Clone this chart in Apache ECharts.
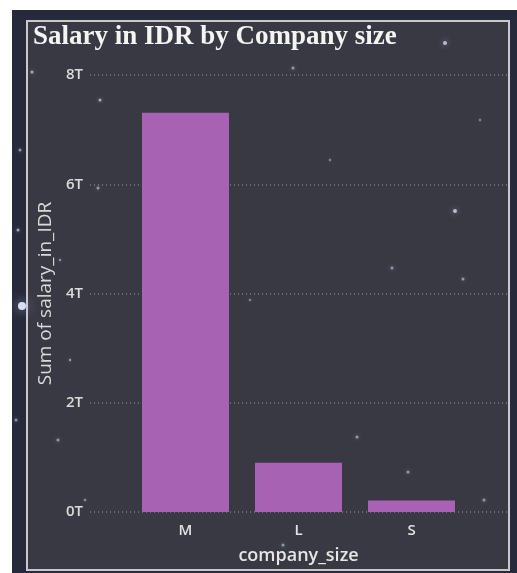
<!DOCTYPE html>
<html>
<head>
<meta charset="utf-8">
<title>Salary in IDR by Company size</title>
<script src="https://cdn.jsdelivr.net/npm/echarts@6/dist/echarts.min.js"></script>
<style>
  html, body { margin: 0; padding: 0; background: #ffffff; }
  #chart { width: 517px; height: 573px; }
</style>
</head>
<body>
<div id="chart"></div>
<script>
// Company size buckets and summed salaries (IDR)
const categories = ['M', 'L', 'S'];
const salaryInIDR = [7.31e12, 0.9e12, 0.21e12];
const yTicks = [0, 2e12, 4e12, 6e12, 8e12];

// Faint stars sprinkled over the dark backdrop: [x, y, radius, opacity]
const stars = [
  [22, 306, 4, 0.9], [18, 230, 1.5, 0.6], [20, 150, 1.5, 0.5], [16, 420, 1.5, 0.5],
  [32, 72, 1.5, 0.6], [100, 100, 1.5, 0.6], [98, 188, 1.5, 0.5], [70, 360, 1.2, 0.5],
  [58, 440, 1.5, 0.5], [455, 211, 2, 0.7], [392, 268, 1.5, 0.5], [463, 279, 1.5, 0.5],
  [445, 43, 2, 0.7], [293, 68, 1.5, 0.5], [357, 437, 1.5, 0.5], [408, 472, 1.5, 0.5],
  [484, 500, 1.5, 0.5], [250, 300, 1.2, 0.4], [330, 160, 1.2, 0.4], [480, 120, 1.2, 0.4],
  [60, 260, 1.2, 0.45], [85, 500, 1.2, 0.45], [283, 545, 1.5, 0.5], [168, 452, 1.2, 0.4]
];

const chart = echarts.init(document.getElementById('chart'), null, { renderer: 'canvas' });

const tFormat = v => (v / 1e12) + 'T';

const graphics = [
  {
    type: 'rect', z: -20, silent: true,
    shape: { x: 12, y: 10, width: 505, height: 563 },
    style: { fill: '#262a3a' }
  },
  {
    type: 'rect', z: -19, silent: true,
    shape: { x: 27, y: 21, width: 482, height: 549 },
    style: { fill: '#383943', stroke: '#c9c9cc', lineWidth: 2 }
  }
];
stars.forEach(s => {
  graphics.push({
    type: 'circle', z: -18, silent: true,
    shape: { cx: s[0], cy: s[1], r: s[2] },
    style: { fill: 'rgba(235,240,255,' + s[3] + ')', shadowBlur: s[2] * 3, shadowColor: 'rgba(200,215,255,0.8)' }
  });
});
graphics.push({
  type: 'text', z: 10, silent: true,
  left: 33, top: 24,
  style: {
    text: 'Salary in IDR by Company size',
    fill: '#f4f4f4',
    font: 'bold 27px "Liberation Serif", serif'
  }
});

const labelFont = { fontFamily: 'Open Sans', fontWeight: 600 };

chart.setOption({
  backgroundColor: 'transparent',
  animation: false,
  graphic: graphics,
  grid: [
    { left: 90, right: 10, top: 75, bottom: 61 },
    { left: 129, right: 49, top: 75, bottom: 61 }
  ],
  xAxis: [
    { gridIndex: 0, type: 'value', show: false, min: 0, max: 1 },
    {
      gridIndex: 1, type: 'category', data: categories,
      axisLine: { show: false }, axisTick: { show: false },
      axisLabel: Object.assign({ color: '#e2e2e2', fontSize: 15, margin: 11 }, labelFont),
      name: 'company_size', nameLocation: 'middle', nameGap: 35,
      nameTextStyle: Object.assign({ color: '#e6e6e6', fontSize: 18 }, labelFont)
    }
  ],
  yAxis: [
    {
      gridIndex: 0, type: 'value', min: 0, max: 8e12, interval: 2e12,
      axisLine: { show: false }, axisTick: { show: false },
      axisLabel: Object.assign({ color: '#dcdcdc', fontSize: 15, margin: 7, formatter: tFormat }, labelFont),
      splitLine: { lineStyle: { color: '#7b7c86', type: [1, 3], width: 1.5 } },
      name: 'Sum of salary_in_IDR', nameLocation: 'middle', nameGap: 31,
      nameTextStyle: { color: '#dadada', fontSize: 19, fontFamily: 'Open Sans' }
    },
    {
      gridIndex: 1, type: 'value', min: 0, max: 8e12, interval: 2e12, show: false
    }
  ],
  series: [
    {
      type: 'bar', xAxisIndex: 1, yAxisIndex: 1,
      data: salaryInIDR,
      barCategoryGap: '23%',
      itemStyle: { color: '#a862b4' }
    }
  ]
});
</script>
</body>
</html>
